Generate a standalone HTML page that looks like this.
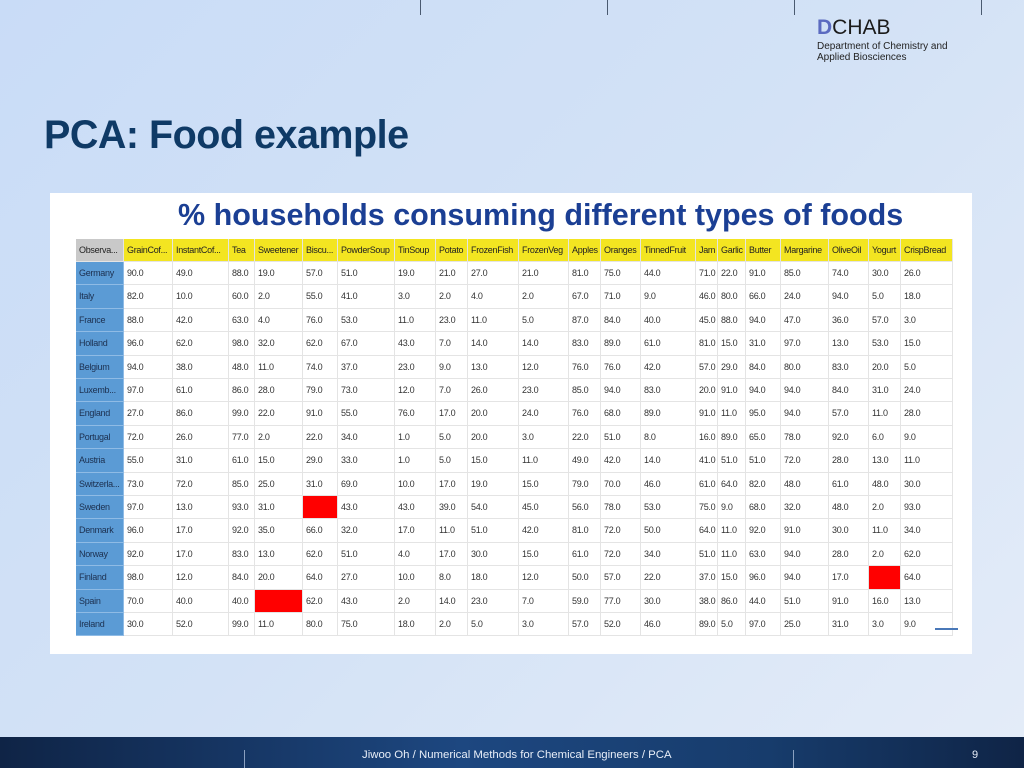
<!DOCTYPE html>
<html><head><meta charset="utf-8">
<style>
html,body{margin:0;padding:0;}
body{width:1024px;height:768px;overflow:hidden;position:relative;font-family:"Liberation Sans",sans-serif;
background:linear-gradient(135deg,#c9dcf7 0%,#d3e2f6 50%,#e4ecf8 100%);}
.vl{position:absolute;top:0;width:1px;height:15px;background:#4a5a70;}
#logo{position:absolute;left:817px;top:16px;}
#title{position:absolute;left:44px;top:113px;font-size:39.5px;font-weight:bold;color:#0f3a66;letter-spacing:-0.5px;}
#panel{position:absolute;left:50px;top:193px;width:922px;height:461px;background:#fff;}
#sub{position:absolute;left:128px;top:5px;font-size:30.5px;font-weight:bold;color:#1b3f94;white-space:nowrap;}
.c{position:absolute;font-size:9px;color:#333;line-height:23px;white-space:nowrap;overflow:hidden;box-sizing:border-box;padding-left:3px;border-right:1px solid #e4e4e4;border-bottom:1px solid #e4e4e4;letter-spacing:-0.3px;}
#footer{position:absolute;left:0;top:737px;width:1024px;height:31px;background:linear-gradient(90deg,#0f2446 0%,#1d4780 45%,#173c6c 75%,#0f2446 100%);}
.fl{position:absolute;top:750px;width:1px;height:18px;background:#8aa0c0;}
</style></head><body>
<div class="vl" style="left:420px"></div>
<div class="vl" style="left:607px"></div>
<div class="vl" style="left:794px"></div>
<div class="vl" style="left:981px"></div>
<div id="logo">
 <div style="font-size:21px;line-height:24px;color:#1b1b1b"><span style="color:#5b6bc0;font-weight:bold">D</span>CHAB</div>
 <div style="font-size:10px;line-height:11px;color:#222;margin-top:1px">Department of Chemistry and<br>Applied Biosciences</div>
</div>
<div id="title">PCA: Food example</div>
<div id="panel">
 <div id="sub">% households consuming different types of foods</div>
</div>
<div id="tbl"></div>
<div style="position:absolute;left:935px;top:628px;width:23px;height:2px;background:#4a78b8"></div>
<div id="footer"></div>
<div class="fl" style="left:244px"></div>
<div class="fl" style="left:793px"></div>
<div style="position:absolute;left:362px;top:749px;font-size:11.4px;color:#e8eef8">Jiwoo Oh / Numerical Methods for Chemical Engineers / PCA</div>
<div style="position:absolute;left:972px;top:749px;font-size:11px;color:#e8eef8">9</div>
<script>
const columns=["Observa...","GrainCof...","InstantCof...","Tea","Sweetener","Biscu...","PowderSoup","TinSoup","Potato","FrozenFish","FrozenVeg","Apples","Oranges","TinnedFruit","Jam","Garlic","Butter","Margarine","OliveOil","Yogurt","CrispBread"];
const countries=["Germany","Italy","France","Holland","Belgium","Luxemb...","England","Portugal","Austria","Switzerla...","Sweden","Denmark","Norway","Finland","Spain","Ireland"];
const values=[
[90,49,88,19,57,51,19,21,27,21,81,75,44,71,22,91,85,74,30,26],
[82,10,60,2,55,41,3,2,4,2,67,71,9,46,80,66,24,94,5,18],
[88,42,63,4,76,53,11,23,11,5,87,84,40,45,88,94,47,36,57,3],
[96,62,98,32,62,67,43,7,14,14,83,89,61,81,15,31,97,13,53,15],
[94,38,48,11,74,37,23,9,13,12,76,76,42,57,29,84,80,83,20,5],
[97,61,86,28,79,73,12,7,26,23,85,94,83,20,91,94,94,84,31,24],
[27,86,99,22,91,55,76,17,20,24,76,68,89,91,11,95,94,57,11,28],
[72,26,77,2,22,34,1,5,20,3,22,51,8,16,89,65,78,92,6,9],
[55,31,61,15,29,33,1,5,15,11,49,42,14,41,51,51,72,28,13,11],
[73,72,85,25,31,69,10,17,19,15,79,70,46,61,64,82,48,61,48,30],
[97,13,93,31,null,43,43,39,54,45,56,78,53,75,9,68,32,48,2,93],
[96,17,92,35,66,32,17,11,51,42,81,72,50,64,11,92,91,30,11,34],
[92,17,83,13,62,51,4,17,30,15,61,72,34,51,11,63,94,28,2,62],
[98,12,84,20,64,27,10,8,18,12,50,57,22,37,15,96,94,17,null,64],
[70,40,40,null,62,43,2,14,23,7,59,77,30,38,86,44,51,91,16,13],
[30,52,99,11,80,75,18,2,5,3,57,52,46,89,5,97,25,31,3,9]
];
const colEdges=[76,124,173,229,255,303,338,395,436,468,519,569,601,641,696,718,746,781,829,869,901,953];
const top0=239, hdrH=23, rowH=23.4;
const tbl=document.getElementById('tbl');
function cell(x,y,w,h,txt,bg,color){
  const d=document.createElement('div');
  d.className='c';
  d.style.left=x+'px';d.style.top=y+'px';d.style.width=w+'px';d.style.height=h+'px';
  d.style.lineHeight=h+'px';
  if(bg)d.style.background=bg;
  if(color)d.style.color=color;
  d.textContent=txt;
  tbl.appendChild(d);
  return d;
}
columns.forEach((c,i)=>{
  const d=cell(colEdges[i],top0,colEdges[i+1]-colEdges[i],hdrH,c,i==0?'#c9c9c9':'#f3e521','#222');
  
  
});
countries.forEach((name,r)=>{
  const y=top0+hdrH+r*rowH;
  const d=cell(colEdges[0],y,colEdges[1]-colEdges[0],rowH,name,'#5b9bd5','#1c3050');
  d.style.borderRight='1px solid #8fbbe5';d.style.borderBottom='1px solid #8fbbe5';
  
  
  values[r].forEach((v,j)=>{
    const e=cell(colEdges[j+1],y,colEdges[j+2]-colEdges[j+1],rowH,v==null?'':v.toFixed(1),v==null?'#ff0000':null,null);
    
    
  });
});
</script>
</body></html>
